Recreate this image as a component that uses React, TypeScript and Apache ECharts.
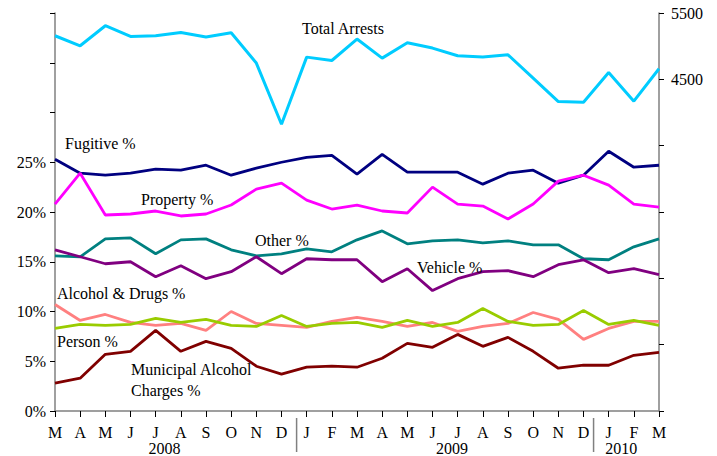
import React, { useEffect, useRef } from "react";
import * as echarts from "echarts";

const periods = [
  "2008-03", "2008-04", "2008-05", "2008-06", "2008-07", "2008-08", "2008-09", "2008-10", "2008-11", "2008-12",
  "2009-01", "2009-02", "2009-03", "2009-04", "2009-05", "2009-06", "2009-07", "2009-08", "2009-09", "2009-10", "2009-11", "2009-12",
  "2010-01", "2010-02", "2010-03",
];
const monthInitials = ["M", "A", "M", "J", "J", "A", "S", "O", "N", "D", "J", "F", "M", "A", "M", "J", "J", "A", "S", "O", "N", "D", "J", "F", "M"];
const years = ["2008", "2009", "2010"];

const totalArrests = [5157, 5006, 5308, 5147, 5157, 5207, 5137, 5202, 4745, 3823, 4835, 4784, 5107, 4820, 5051, 4971, 4855, 4835, 4870, 4518, 4165, 4155, 4603, 4171, 4659];
const fugitive = [25.3, 23.9, 23.7, 23.9, 24.3, 24.2, 24.7, 23.7, 24.4, 25.0, 25.5, 25.7, 23.8, 25.8, 24.0, 24.0, 24.0, 22.8, 23.9, 24.2, 22.9, 23.7, 26.1, 24.5, 24.7];
const property = [20.8, 23.9, 19.7, 19.8, 20.1, 19.6, 19.8, 20.7, 22.3, 22.9, 21.2, 20.3, 20.7, 20.1, 19.9, 22.5, 20.8, 20.6, 19.3, 20.8, 23.1, 23.7, 22.7, 20.8, 20.5];
const other = [15.6, 15.5, 17.3, 17.4, 15.8, 17.2, 17.3, 16.2, 15.6, 15.8, 16.3, 16.0, 17.2, 18.1, 16.8, 17.1, 17.2, 16.9, 17.1, 16.7, 16.7, 15.3, 15.2, 16.5, 17.3];
const vehicle = [16.2, 15.5, 14.8, 15.0, 13.5, 14.6, 13.3, 14.0, 15.5, 13.8, 15.3, 15.2, 15.2, 13.0, 14.3, 12.1, 13.3, 14.0, 14.1, 13.5, 14.7, 15.2, 13.9, 14.3, 13.7];
const alcoholDrugs = [10.7, 9.1, 9.7, 8.9, 8.6, 8.8, 8.1, 10.0, 8.8, 8.6, 8.4, 9.0, 9.4, 9.0, 8.5, 8.9, 8.0, 8.5, 8.8, 9.9, 9.2, 7.2, 8.3, 9.0, 9.0];
const person = [8.3, 8.7, 8.6, 8.7, 9.3, 8.9, 9.2, 8.6, 8.5, 9.6, 8.5, 8.8, 8.9, 8.4, 9.1, 8.5, 8.9, 10.3, 9.0, 8.6, 8.7, 10.1, 8.7, 9.1, 8.6];
const municipalAlcohol = [2.8, 3.3, 5.7, 6.0, 8.1, 6.0, 7.0, 6.3, 4.5, 3.7, 4.4, 4.5, 4.4, 5.3, 6.8, 6.4, 7.7, 6.5, 7.4, 6.0, 4.3, 4.6, 4.6, 5.6, 5.9];

const FONT_FAMILY = '"Liberation Serif", "Times New Roman", serif';
const FONT_SIZE = 16;
const FONT = `${FONT_SIZE}px ${FONT_FAMILY}`;
const AXIS_GRAY = "#808080";

export default function App() {
  const ref = useRef<HTMLDivElement>(null);

  useEffect(() => {
    if (!ref.current) return;
    const chart = echarts.init(ref.current, null, { renderer: "svg" });

    const mk = (name: string, data: number[], color: string, yAxisIndex = 0, width = 2.8) => ({
      name,
      type: "line",
      data,
      yAxisIndex,
      symbol: "none",
      lineStyle: { color, width },
      itemStyle: { color },
      z: 3,
    });

    chart.setOption({
      animation: false,
      textStyle: { fontFamily: FONT_FAMILY },
      grid: { left: 55, right: 58, top: 13, bottom: 45, containLabel: false },
      xAxis: {
        type: "category",
        data: periods,
        boundaryGap: false,
        axisLine: { lineStyle: { color: AXIS_GRAY, width: 1.5 } },
        axisTick: { inside: false, length: 6, alignWithLabel: true, lineStyle: { color: "#000", width: 1 } },
        axisLabel: {
          interval: 0,
          margin: 13,
          color: "#000",
          fontSize: FONT_SIZE,
          lineHeight: FONT_SIZE,
          fontFamily: FONT_FAMILY,
          formatter: (_v: string, i: number) => monthInitials[i],
        },
        splitLine: { show: false },
      },
      yAxis: [
        {
          type: "value",
          min: 0,
          max: 40,
          interval: 5,
          position: "left",
          axisLine: { show: true, lineStyle: { color: AXIS_GRAY, width: 1.5 } },
          axisTick: { show: true, length: 5, lineStyle: { color: "#000" } },
          axisLabel: {
            color: "#000",
            fontSize: FONT_SIZE,
            fontFamily: FONT_FAMILY,
            margin: 9,
            formatter: (v: number) => (v <= 25 ? `${v}%` : ""),
          },
          splitLine: { show: false },
        },
        {
          type: "value",
          min: -500,
          max: 5500,
          interval: 1000,
          position: "right",
          axisLine: { show: true, lineStyle: { color: AXIS_GRAY, width: 1.5 } },
          axisTick: { show: true, length: 5, lineStyle: { color: "#000" } },
          axisLabel: {
            color: "#000",
            fontSize: FONT_SIZE,
            fontFamily: FONT_FAMILY,
            margin: 12,
            formatter: (v: number) => (v >= 4500 ? `${v}` : ""),
          },
          splitLine: { show: false },
        },
      ],
      series: [
        mk("Total Arrests", totalArrests, "#00CCFF", 1, 3),
        mk("Fugitive %", fugitive, "#000080"),
        mk("Property %", property, "#FF00FF"),
        mk("Other %", other, "#008080"),
        mk("Vehicle %", vehicle, "#800080"),
        mk("Alcohol & Drugs %", alcoholDrugs, "#FF8080"),
        mk("Person %", person, "#99CC00"),
        mk("Municipal Alcohol Charges %", municipalAlcohol, "#800000"),
      ],
    });

    const x0 = chart.convertToPixel({ xAxisIndex: 0 }, 0) as number;
    const x1 = chart.convertToPixel({ xAxisIndex: 0 }, 1) as number;
    const step = x1 - x0;
    const xAt = (f: number) => x0 + step * f;
    const yBase = chart.convertToPixel({ yAxisIndex: 0 }, 0) as number;

    const label = (text: string, x: number, y: number) => ({
      type: "text",
      x,
      y,
      z: 10,
      style: { text, font: FONT, fill: "#000", textAlign: "left", textVerticalAlign: "middle", align: "left", verticalAlign: "middle" },
    });

    const separators = [9.6, 21.4].map((f) => ({
      type: "line",
      shape: { x1: xAt(f), y1: yBase + 7, x2: xAt(f), y2: yBase + 41 },
      style: { stroke: AXIS_GRAY, lineWidth: 1.5 },
    }));
    const yearPos = [4.35, 15.77, 22.5];
    const yearLabels = years.map((y, i) => ({
      type: "text",
      x: xAt(yearPos[i]),
      y: yBase + 37,
      style: { text: y, font: FONT, fill: "#000", textAlign: "center", textVerticalAlign: "middle", align: "center", verticalAlign: "middle" },
    }));

    chart.setOption({
      graphic: [
        ...separators,
        ...yearLabels,
        label("Total Arrests", 302, 28),
        label("Fugitive %", 65, 143),
        label("Property %", 141, 199),
        label("Other %", 255, 240),
        label("Vehicle %", 417, 267),
        label("Alcohol & Drugs %", 57, 293),
        label("Person %", 57, 341),
        label("Municipal Alcohol", 131, 369),
        label("Charges %", 131, 390),
      ],
    });

    return () => chart.dispose();
  }, []);

  return <div ref={ref} style={{ width: 717, height: 456, position: "absolute", left: 0, top: 0 }} />;
}
